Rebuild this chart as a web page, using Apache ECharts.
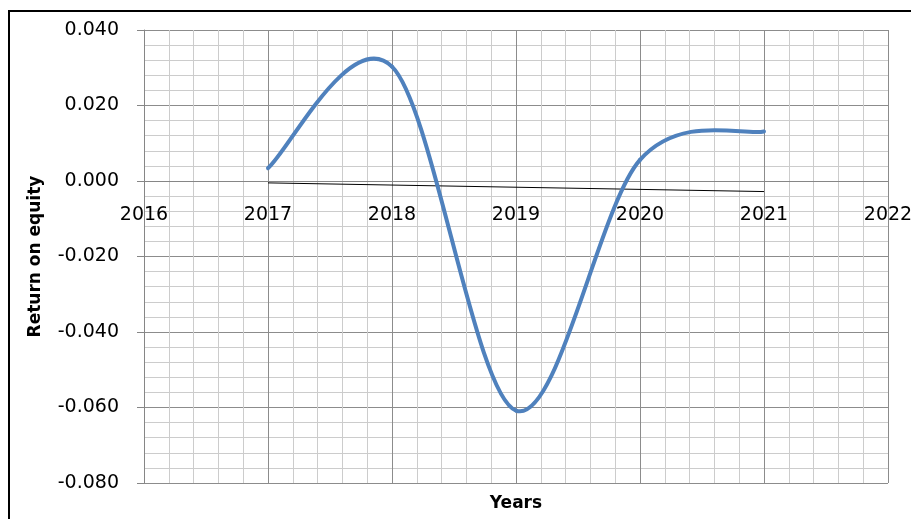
<!DOCTYPE html>
<html>
<head>
<meta charset="utf-8">
<script src="https://cdn.jsdelivr.net/npm/echarts@6/dist/echarts.min.js"></script>
<style>
  html, body { margin: 0; padding: 0; background: #fff; }
  #chart { width: 911px; height: 519px; }
</style>
</head>
<body>
<div id="chart"></div>
<script>
// values
var years = [2017, 2018, 2019, 2020, 2021];
var roe = [0.0034, 0.0303, -0.0608, 0.0056, 0.0131];
// linear trendline end points (2017 and 2021)
var trendYears = [2017, 2021];
var trendValues = [-0.0005, -0.0028];

var lineData = [];
for (var i = 0; i < years.length; i++) {
    lineData.push([years[i], roe[i]]);
}
var trendData = [];
for (var j = 0; j < trendYears.length; j++) {
    trendData.push([trendYears[j], trendValues[j]]);
}

// Excel style smoothed line: one bezier piece per segment, control points
// from the neighbour points (catmull-rom like)
function renderSmooth(params, api) {
    var k = params.dataIndex;
    var n = lineData.length;
    if (k >= n - 1) {
        return null;
    }
    var p0 = api.coord(lineData[Math.max(k - 1, 0)]);
    var p1 = api.coord(lineData[k]);
    var p2 = api.coord(lineData[k + 1]);
    var p3 = api.coord(lineData[Math.min(k + 2, n - 1)]);
    return {
        type: 'bezierCurve',
        shape: {
            x1: p1[0], y1: p1[1],
            x2: p2[0], y2: p2[1],
            cpx1: p1[0] + (p2[0] - p0[0]) / 6,
            cpy1: p1[1] + (p2[1] - p0[1]) / 6,
            cpx2: p2[0] - (p3[0] - p1[0]) / 6,
            cpy2: p2[1] - (p3[1] - p1[1]) / 6
        },
        style: { stroke: '#4f81bd', lineWidth: 4, fill: 'none', lineCap: 'round' }
    };
}

var font = 'DejaVu Sans';
var myChart = echarts.init(document.getElementById('chart'));
var option = {
    backgroundColor: '#fff',
    animation: false,
    graphic: [{
        type: 'rect',
        shape: { x: 9, y: 11, width: 1000, height: 600 },
        style: { fill: 'none', stroke: '#000', lineWidth: 2 },
        z: 100
    }],
    grid: { left: 144, right: 23, top: 30, bottom: 36, containLabel: false, outerBoundsMode: 'none' },
    xAxis: {
        type: 'value',
        min: 2016,
        max: 2022,
        interval: 1,
        offset: -302,
        name: 'Years',
        nameLocation: 'middle',
        nameGap: 314,
        nameTextStyle: { fontFamily: font, fontSize: 17, fontWeight: 'bold', color: '#000' },
        axisLine: { onZero: false, lineStyle: { color: '#868686', width: 1 } },
        axisTick: { show: false },
        axisLabel: {
            margin: 25, fontFamily: font, fontSize: 19, color: '#000',
            formatter: function (v) { return String(v); }
        },
        splitLine: { show: true, lineStyle: { color: '#8c8c8c', width: 1 } },
        minorTick: { show: false, splitNumber: 5 },
        minorSplitLine: { show: true, lineStyle: { color: '#cccccc', width: 1 } }
    },
    yAxis: {
        type: 'value',
        min: -0.08,
        max: 0.04,
        interval: 0.02,
        name: 'Return on equity',
        nameLocation: 'middle',
        nameGap: 100,
        nameRotate: 90,
        nameTextStyle: { fontFamily: font, fontSize: 17, fontWeight: 'bold', color: '#000' },
        axisLine: { show: true, lineStyle: { color: '#868686', width: 1 } },
        axisTick: { show: true, length: 7, lineStyle: { color: '#868686' } },
        axisLabel: {
            margin: 25, fontFamily: font, fontSize: 19, color: '#000',
            formatter: function (v) { return v.toFixed(3); }
        },
        splitLine: { show: true, lineStyle: { color: '#8c8c8c', width: 1 } },
        minorTick: { show: false, splitNumber: 5 },
        minorSplitLine: { show: true, lineStyle: { color: '#cccccc', width: 1 } }
    },
    series: [{
        name: 'ROE',
        type: 'custom',
        data: lineData,
        encode: { x: 0, y: 1 },
        renderItem: renderSmooth,
        z: 3
    }, {
        name: 'Trend',
        type: 'line',
        data: trendData,
        showSymbol: false,
        lineStyle: { color: '#000', width: 1 },
        z: 2
    }]
};
myChart.setOption(option);
</script>
</body>
</html>
